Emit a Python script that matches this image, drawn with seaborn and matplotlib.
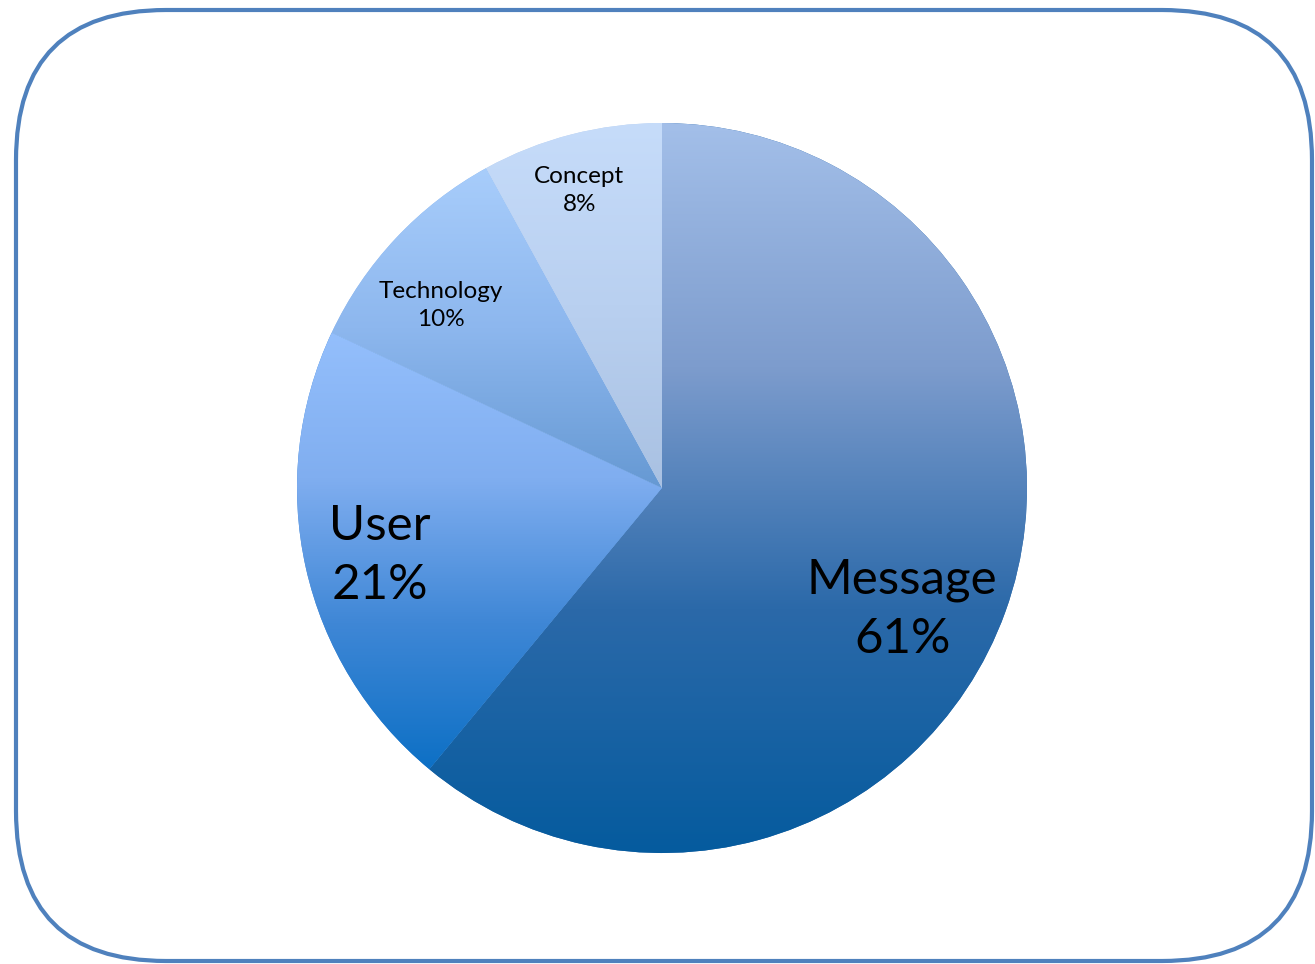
import numpy as np
import matplotlib.pyplot as plt
import seaborn as sns
from matplotlib.patches import FancyBboxPatch

# slices, clockwise from 12 o'clock
labels = ['Message', 'User', 'Technology', 'Concept']
shares = [61, 21, 10, 8]
pct_labels = ['61%', '21%', '10%', '8%']

# vertical gradient stops per slice (top -> bottom)
gradients = [
    ['#a3bfe9', '#7d9ccd', '#2b69a9', '#055b9e'],
    ['#94bffc', '#80aef0', '#3f87d6', '#0d70c5'],
    ['#a8cdfb', '#8db7ee', '#6699d3'],
    ['#c6dcfa', '#b9d0f0', '#a9c1e2'],
]
font_sizes = [35.5, 35.5, 17.5, 17.5]
# label block centres, in units of the radius from the pie centre
label_pos = [(0.658, -0.332), (-0.773, -0.184), (-0.605, 0.501), (-0.227, 0.816)]

sns.set_style('white')
plt.rcParams['font.family'] = ['Lato', 'DejaVu Sans']

fig = plt.figure(figsize=(13.15, 9.64), dpi=100)
ax = fig.add_axes([0, 0, 1, 1])

cx, cy, r = 662, 476, 365
wedges, _ = ax.pie(shares, startangle=90, counterclock=False,
                   center=(cx, cy), radius=r,
                   wedgeprops=dict(linewidth=0))

grad = np.linspace(0, 1, 256).reshape(-1, 1)
for w, stops in zip(wedges, gradients):
    cmap = sns.blend_palette(stops, as_cmap=True)
    w.set_facecolor(stops[len(stops) // 2])
    bb = w.get_path().get_extents()
    im = ax.imshow(grad, cmap=cmap, origin='upper', aspect='auto',
                   extent=(bb.x0, bb.x1, bb.y0, bb.y1), zorder=w.get_zorder() + 0.1,
                   interpolation='bilinear')
    im.set_clip_path(w)

for lab, pct, fs, (dx, dy) in zip(labels, pct_labels, font_sizes, label_pos):
    ax.text(cx + dx * r, cy + dy * r, lab + '\n' + pct,
            ha='center', va='center', fontsize=fs, linespacing=1.42,
            color='black', zorder=5)

frame = FancyBboxPatch((16, 3), 1296, 951,
                       boxstyle='round,pad=0,rounding_size=150',
                       facecolor='none', edgecolor='#4f81bd', linewidth=3)
ax.add_patch(frame)

ax.set_xlim(0, 1315)
ax.set_ylim(0, 964)
ax.set_aspect('equal')
ax.axis('off')

fig.savefig('out.png', dpi=100)
